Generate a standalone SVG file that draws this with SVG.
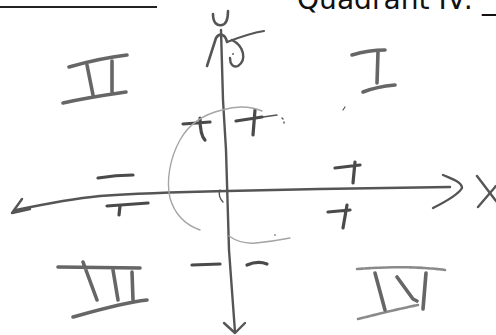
<svg xmlns="http://www.w3.org/2000/svg" width="496" height="335" viewBox="0 0 496 335">
<style>
.p{fill:none;stroke:#555;stroke-linecap:round;stroke-linejoin:round}
.ax{stroke-width:2.4}
.tk{stroke-width:3.2;stroke:#4a4a4a}
.nm{stroke-width:3.6;stroke:#666}
.lt{stroke-width:2.6;stroke:#8a8a8a;stroke-dasharray:6 1.5}
.arc{fill:none;stroke:#a5a5a5;stroke-width:1.4;stroke-linecap:round}
.hd{font-family:"DejaVu Sans",sans-serif;font-size:28px;fill:#111}
</style>
<rect width="496" height="335" fill="#fff"/>
<g id="header">
<line x1="0" y1="7" x2="157" y2="7" stroke="#222" stroke-width="2"/>
<text class="hd" x="297" y="9" textLength="199" lengthAdjust="spacingAndGlyphs">Quadrant IV: _</text>
</g>
<g id="axes">
<path class="p ax" d="M221,30 L223,100 L226,150 L229,250 L235,332"/>
<path class="p ax" d="M224,323 L235,333 L245,323"/>
<path class="p ax" d="M16,210 C40,205 80,198 100,196 C140,193 180,192 227,191 C300,189 380,188 450,187"/>
<path class="p ax" d="M22,199 L12,213 L30,209"/>
<path class="p ax" d="M443,175 C452,179 462,182 462,188 C458,195 445,202 433,208"/>
</g>
<g id="y-label">
<path class="p" stroke-width="2.6" d="M213,14 C213,23 217,26 222,25 C227,24 228,18 228,11"/>
<path class="p" stroke-width="2.6" d="M207,66 L216,38 C219,33 225,33 227,42"/>
<path class="p" stroke-width="2.2" d="M227,42 C240,37 252,33 264,31"/>
<path class="p" stroke-width="2.4" d="M232,40 C244,46 247,60 238,66 C233,68 230,64 230,58"/>
<circle cx="233" cy="54" r="1" fill="#666"/>
</g>
<g id="x-label">
<path class="p" stroke-width="2.4" stroke="#777" d="M477,176 L496,201"/>
<path class="p" stroke-width="2.4" stroke="#777" d="M478,207 L496,186"/>
</g>
<g id="ticks">
<path class="p tk" stroke-width="3.6" d="M98,178 C110,176 122,175 133,175"/>
<path class="p tk" stroke-width="4.4" d="M107,206 C120,205 135,204 148,203"/>
<path class="p tk" stroke-width="2" d="M120,206 L119,215"/>
<path class="p tk" stroke-width="2.4" d="M335,168 L360,165 M355,162 L353,183"/>
<path class="p tk" stroke-width="2.4" d="M328,212 L350,210 M347,205 L343,228"/>
<path class="p tk" stroke-width="2.6" d="M183,124 L210,122 M200,118 C200,128 201,136 205,140"/>
<path class="p tk" stroke-width="2.6" d="M236,121 L262,117 M255,110 L253,135"/>
<path class="p" stroke="#888" stroke-width="1.4" d="M263,117 L277,115 M282,118 L283,119 M284,122 L284,123"/>
<path class="p tk" d="M192,265 L220,264"/>
<path class="p tk" d="M247,265 C254,262 262,262 267,264"/>
<path class="p" stroke-width="1.4" stroke="#666" d="M220,190 C218,194 220,199 223,202"/>
<path class="p" stroke-width="1.2" stroke="#999" d="M345,107 L343,110"/>
</g>
<g id="arc">
<path class="arc" d="M262,111 C250,106 236,106 222,110 C205,114 190,122 180,140 C170,158 166,180 170,198 C174,212 183,224 200,230"/>
<path class="arc" d="M229,236 C236,241 245,244 256,243 C266,242 280,240 290,238"/>
<circle cx="275" cy="235" r="0.9" fill="#888"/>
</g>
<g id="numerals">
<path class="p nm" d="M69,67 C90,61 110,57 127,55 M87,65 L93,95 M112,61 L112,92 M63,103 C85,98 105,95 126,92"/>
<path class="p nm" d="M352,55 C362,52 374,50 385,50 M378,52 L377,83 M363,92 C373,88 384,86 395,85"/>
<path class="p nm" d="M58,267 L140,268 M83,262 L97,300 M113,270 L118,300 M132,272 L133,300 M73,317 C98,310 122,303 147,300"/>
<path class="p lt" d="M357,269 C385,267 415,266 445,270"/>
<path class="p lt" d="M358,319 C378,314 398,309 418,305"/>
<path class="p nm" stroke="#888" d="M375,273 L385,310"/>
<path class="p nm" stroke="#888" d="M397,277 L413,299 L417,301"/>
<path class="p nm" stroke="#888" d="M426,273 L423,309"/>
</g>
</svg>
